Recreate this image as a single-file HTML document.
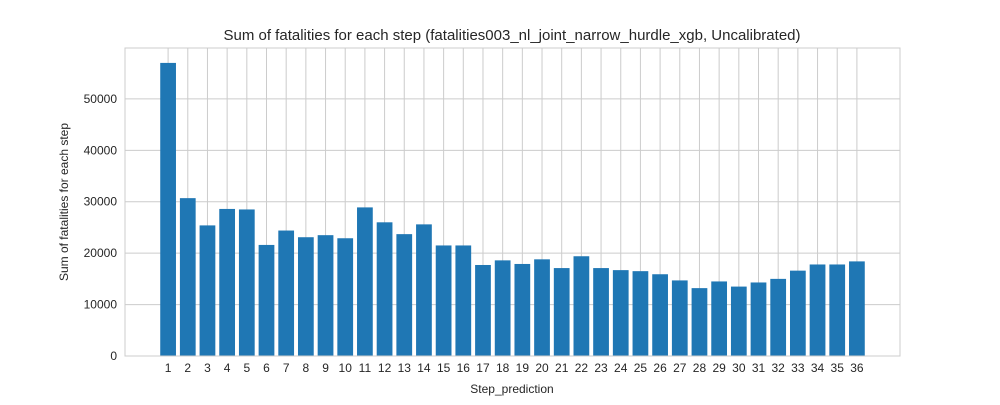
<!DOCTYPE html>
<html><head><meta charset="utf-8"><style>
body{margin:0;background:#fff;font-family:"Liberation Sans",sans-serif;}
</style></head><body>
<svg id="chart" width="1000" height="400" xmlns="http://www.w3.org/2000/svg" font-family="Liberation Sans, sans-serif">
<rect width="1000" height="400" fill="#fff"/>
<g id="grid"></g><g id="bars"></g><g id="ticks"></g>
<rect x="125" y="48" width="775" height="308" fill="none" stroke="#cccccc" stroke-width="1"/>
<text x="512" y="40" text-anchor="middle" font-size="15" fill="#262626">Sum of fatalities for each step (fatalities003_nl_joint_narrow_hurdle_xgb, Uncalibrated)</text>
<text x="512" y="393" text-anchor="middle" font-size="12" fill="#262626">Step_prediction</text>
<text transform="translate(68,202) rotate(-90)" text-anchor="middle" font-size="12" fill="#262626">Sum of fatalities for each step</text>
</svg>
<script>
const steps=[1,2,3,4,5,6,7,8,9,10,11,12,13,14,15,16,17,18,19,20,21,22,23,24,25,26,27,28,29,30,31,32,33,34,35,36];
const values=[57000,30700,25400,28600,28500,21600,24400,23100,23500,22900,28900,26000,23700,25600,21500,21500,17700,18600,17900,18800,17100,19400,17100,16700,16500,15900,14700,13200,14500,13500,14300,15000,16600,17800,17800,18400];
const yTicks=[0,10000,20000,30000,40000,50000];
const L=125,R=900,T=48,B=356;
const xmin=0.6-0.05*35.8,xmax=36.4+0.05*35.8,ymax=59900;
const x=v=>L+(v-xmin)/(xmax-xmin)*(R-L);
const y=v=>B-v/ymax*(B-T);
const NS="http://www.w3.org/2000/svg";
const g=document.getElementById('grid'),bg=document.getElementById('bars'),tg=document.getElementById('ticks');
function mk(tag,at,p){const e=document.createElementNS(NS,tag);for(const k in at)e.setAttribute(k,at[k]);p.appendChild(e);return e;}
yTicks.forEach(t=>{
 const l=mk('line',{x1:L,x2:R,y1:y(t),y2:y(t),stroke:'#cccccc'},g);
 
 
 const tx=mk('text',{x:L-8,y:y(t)+4,'text-anchor':'end','font-size':12,fill:'#262626'},tg);
 tx.textContent=t;
 
 
});
steps.forEach((s,i)=>{
 const l=mk('line',{x1:x(s),x2:x(s),y1:T,y2:B,stroke:'#cccccc'},g);
 
 
 const w=x(0.8)-x(0);
 const r=mk('rect',{x:x(s)-w/2,y:y(values[i]),width:w,height:B-y(values[i]),fill:'#1f77b4'},bg);
 
 
 const tx=mk('text',{x:x(s),y:B+16,'text-anchor':'middle','font-size':12,fill:'#262626'},tg);
 tx.textContent=s;
 
 
});
</script>
</body></html>
